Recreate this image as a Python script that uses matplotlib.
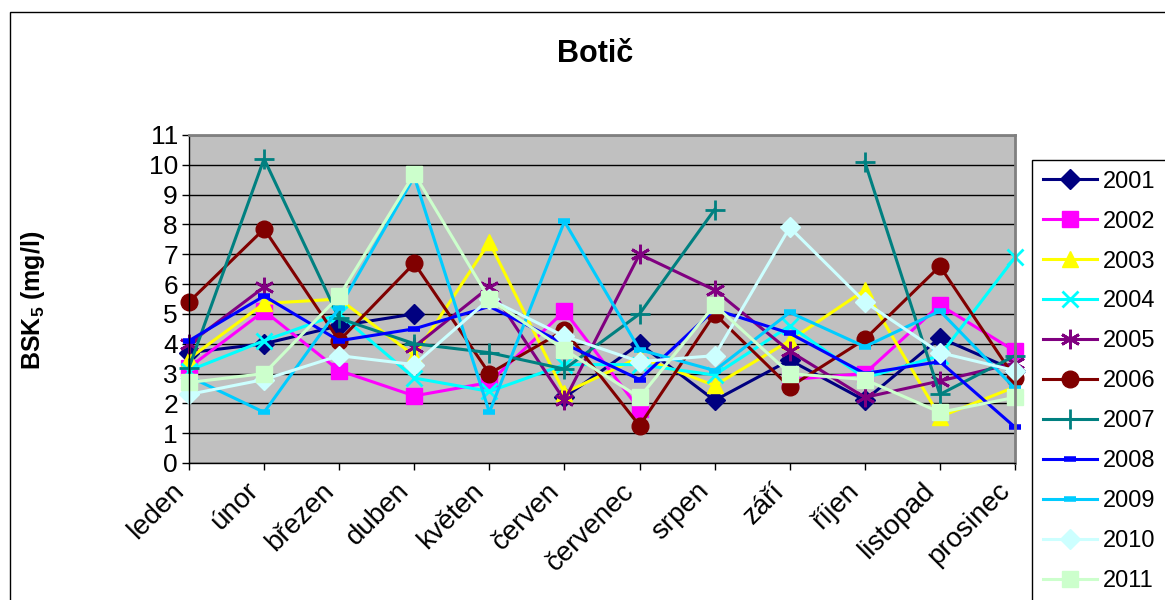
import numpy as np
import matplotlib
matplotlib.use("Agg")
import matplotlib.pyplot as plt
from matplotlib.patches import Rectangle

plt.rcParams['font.family'] = ['Liberation Sans', 'DejaVu Sans']
plt.rcParams['mathtext.fontset'] = 'custom'
plt.rcParams['mathtext.bf'] = 'Liberation Sans:bold'
plt.rcParams['mathtext.rm'] = 'Liberation Sans'

# months (x categories)
months = ['leden', 'únor', 'březen', 'duben', 'květen', 'červen',
          'červenec', 'srpen', 'září', 'říjen', 'listopad', 'prosinec']
nan = np.nan

# BSK5 values per year (nan = no value)
y2001 = [3.7, 4.0, 4.6, 5.0, nan, 2.2, 4.0, 2.1, 3.45, 2.1, 4.2, 3.1]
y2002 = [3.2, 5.1, 3.1, 2.25, 2.7, 5.1, 1.8, nan, 2.8, 3.0, 5.3, 3.75]
y2003 = [3.5, 5.35, 5.5, 3.6, 7.4, 2.35, 3.55, 2.6, 4.1, 5.8, 1.55, 2.55]
y2004 = [3.1, 4.1, 5.0, 2.85, 2.4, 3.3, 3.3, 2.95, 4.6, 2.85, 3.6, 6.9]
y2005 = [4.0, 5.9, nan, 3.9, 5.9, 2.1, 7.0, 5.8, 3.75, 2.2, 2.75, 3.35]
y2006 = [5.4, 7.85, 4.1, 6.7, 3.0, 4.45, 1.25, 5.0, 2.55, 4.15, 6.6, 2.85]
y2007 = [3.2, 10.2, 4.85, 4.0, 3.7, 3.15, 5.0, 8.5, nan, 10.1, 2.3, 3.6]
y2008 = [4.1, 5.6, 4.1, 4.5, 5.25, 4.0, 2.8, 5.15, 4.35, 3.0, 3.4, 1.2]
y2009 = [2.9, 1.7, 5.2, 9.6, 1.7, 8.1, 3.8, 3.1, 5.05, 3.9, 5.1, 2.5]
y2010 = [2.3, 2.8, 3.6, 3.3, 5.5, 4.25, 3.4, 3.6, 7.9, 5.4, 3.7, 3.1]
y2011 = [2.7, 3.0, 5.6, 9.7, 5.5, 3.8, 2.2, 5.3, 3.0, 2.8, 1.7, 2.2]

years = ['2001', '2002', '2003', '2004', '2005', '2006',
         '2007', '2008', '2009', '2010', '2011']
series = [y2001, y2002, y2003, y2004, y2005, y2006,
          y2007, y2008, y2009, y2010, y2011]

# excel-ish colours and markers
colors = ['#000080', '#FF00FF', '#FFFF00', '#00FFFF', '#800080', '#800000',
          '#008080', '#0000FF', '#00CCFF', '#CCFFFF', '#CCFFCC']
markers = ['D', 's', '^', 'x', (6, 2, 0), 'o', '+', '_', '_', 'D', 's']
msizes = [10, 11, 12, 12, 14, 12, 15, 9, 9, 10, 11]
mews = [1, 1, 1, 2, 2, 1, 2, 4, 4, 1, 1]

fig = plt.figure(figsize=(11.65, 6), dpi=100)
ax = fig.add_axes([189/1165, 1-463/600, (1015-189)/1165, (463-135)/600])
ax.set_facecolor('#C0C0C0')

x = np.arange(len(months))
for yr, vals, c, m, ms, mw in zip(years, series, colors, markers, msizes, mews):
    ax.plot(x, vals, color=c, lw=2.2, marker=m, markersize=ms,
            markeredgewidth=mw, markerfacecolor=c, markeredgecolor=c,
            label=yr, clip_on=False)

ax.set_xlim(0, 11)
ax.set_ylim(0, 11)
ax.set_yticks(range(0, 12))
ax.set_xticks(x)
# bottom-right anchored so the labels sit a bit left of their ticks
ax.set_xticklabels(months, rotation=45, ha='right', va='bottom',
                   rotation_mode='anchor', fontsize=20)
ax.tick_params(axis='y', labelsize=19, length=5, width=1, pad=3)
ax.tick_params(axis='x', length=5, width=1, pad=19)
ax.grid(axis='y', color='black', lw=1)
ax.set_axisbelow(True)
for s in ['top', 'right']:
    ax.spines[s].set_color('#808080')
    ax.spines[s].set_linewidth(2)
for s in ['left', 'bottom']:
    ax.spines[s].set_color('black')
    ax.spines[s].set_linewidth(1)

fig.text(0.511, 0.91, 'Botič', fontsize=22, fontweight='bold',
         ha='center', va='center')
fig.text(0.028, 0.5, r'BSK$_\mathbf{5}$ (mg/l)', fontsize=18,
         fontweight='bold', rotation=90, ha='center', va='center')

# outer chart frame (runs off the right/bottom edge like the original)
fig.patches.append(Rectangle((10/1165, -0.5), 2, 1.5 - 12/600, fill=False,
                             edgecolor='black', lw=1,
                             transform=fig.transFigure))

leg = ax.legend(loc='upper left', bbox_to_anchor=(1032/1165, 1-160/600),
                bbox_transform=fig.transFigure, fontsize=17, frameon=True,
                fancybox=False, edgecolor='black', framealpha=1,
                labelspacing=0.76, handlelength=2.3, handletextpad=0.25,
                borderpad=0.45, borderaxespad=0)
leg.get_frame().set_linewidth(1)

fig.savefig('out.png', dpi=100)
